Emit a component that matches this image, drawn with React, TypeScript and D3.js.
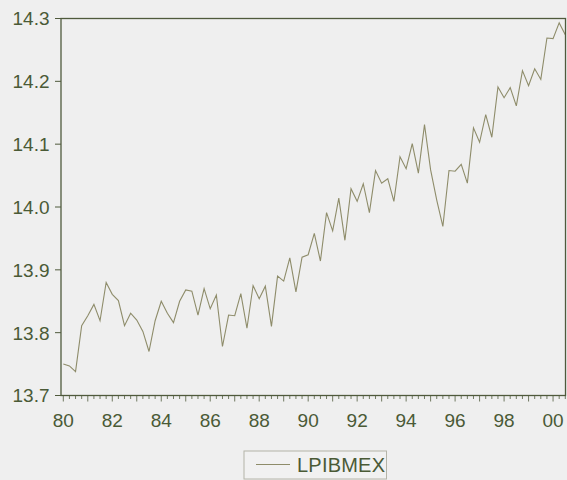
import React from "react";
import * as d3 from "d3";

// Quarterly log real GDP, Mexico, 1980Q1 - 2000Q3
const startYear = 1980;
const seriesName = "LPIBMEX";
const lpibmex = [
  13.750, 13.747, 13.738, 13.811, 13.827, 13.845, 13.819, 13.880,
  13.861, 13.851, 13.811, 13.831, 13.820, 13.802, 13.770, 13.819,
  13.850, 13.831, 13.816, 13.850, 13.868, 13.866, 13.828, 13.870,
  13.838, 13.860, 13.778, 13.828, 13.827, 13.862, 13.807, 13.875,
  13.854, 13.874, 13.810, 13.890, 13.882, 13.919, 13.865, 13.920,
  13.924, 13.958, 13.914, 13.991, 13.962, 14.014, 13.947, 14.029,
  14.009, 14.037, 13.991, 14.058, 14.038, 14.045, 14.009, 14.080,
  14.061, 14.101, 14.054, 14.131, 14.059, 14.011, 13.969, 14.058,
  14.057, 14.068, 14.038, 14.126, 14.103, 14.147, 14.111, 14.191,
  14.174, 14.190, 14.161, 14.217, 14.193, 14.220, 14.203, 14.269,
  14.268, 14.293, 14.274,
];
const yTicks = [13.7, 13.8, 13.9, 14.0, 14.1, 14.2, 14.3];
const xLabelYears = [1980, 1982, 1984, 1986, 1988, 1990, 1992, 1994, 1996, 1998, 2000];

const W = 567;
const H = 480;
const frame = { left: 61, right: 565.5, top: 18.5, bottom: 395.5 };
const axisColor = "#4f5a3c";
const textColor = "#4a5a36";
const lineColor = "#8e8c6a";
const font = "'Liberation Sans', Arial, sans-serif";
const fontSize = 19;

export default function App() {
  const n = lpibmex.length;
  const t = lpibmex.map((_, i) => startYear + i / 4);
  const x = d3
    .scaleLinear()
    .domain([startYear, startYear + (n - 1) / 4])
    .range([63.3, 565.3]);
  const y = d3.scaleLinear().domain([13.7, 14.3]).range([frame.bottom, frame.top]);

  const line = d3
    .line<number>()
    .x((_, i) => x(t[i]))
    .y((d) => y(d));

  const quarterTicks = d3.range(n).map((i) => startYear + i / 4);

  return (
    <svg
      width={W}
      height={H}
      style={{ position: "absolute", left: 0, top: 0, background: "#efefef" }}
    >
      <rect x={0} y={0} width={W} height={H} fill="#efefef" />
      {/* series */}
      <path d={line(lpibmex) || ""} fill="none" stroke={lineColor} strokeWidth={1.1} />

      {/* frame */}
      <rect
        x={frame.left}
        y={frame.top}
        width={frame.right - frame.left}
        height={frame.bottom - frame.top}
        fill="none"
        stroke={axisColor}
        strokeWidth={1.3}
      />

      {/* y axis */}
      {yTicks.map((v) => (
        <g key={v}>
          <line
            x1={frame.left - 6}
            x2={frame.left}
            y1={y(v)}
            y2={y(v)}
            stroke={axisColor}
            strokeWidth={1}
          />
          <text
            x={49.5}
            y={y(v)}
            dy="0.36em"
            textAnchor="end"
            fontFamily={font}
            fontSize={fontSize}
            fill={textColor}
          >
            {v.toFixed(1)}
          </text>
        </g>
      ))}

      {/* x axis quarterly ticks */}
      {quarterTicks.map((q, i) => {
        const isYear = i % 4 === 0;
        return (
          <line
            key={i}
            x1={x(q)}
            x2={x(q)}
            y1={frame.bottom}
            y2={frame.bottom + (isYear ? 6 : 3.5)}
            stroke={axisColor}
            strokeWidth={0.8}
          />
        );
      })}
      {xLabelYears.map((yr) => (
        <text
          key={yr}
          x={x(yr)}
          y={426.5}
          textAnchor="middle"
          fontFamily={font}
          fontSize={fontSize}
          fill={textColor}
        >
          {String(yr % 100).padStart(2, "0")}
        </text>
      ))}

      {/* legend */}
      <rect x={244} y={451} width={142.5} height={28} fill="#f1f1f1" stroke="#b4b4a8" strokeWidth={1} />
      <line x1={256} x2={290} y1={464.5} y2={464.5} stroke={lineColor} strokeWidth={1.1} />
      <text x={297} y={471.5} fontFamily={font} fontSize={20} fill={textColor} textLength={88}>
        {seriesName}
      </text>
    </svg>
  );
}
